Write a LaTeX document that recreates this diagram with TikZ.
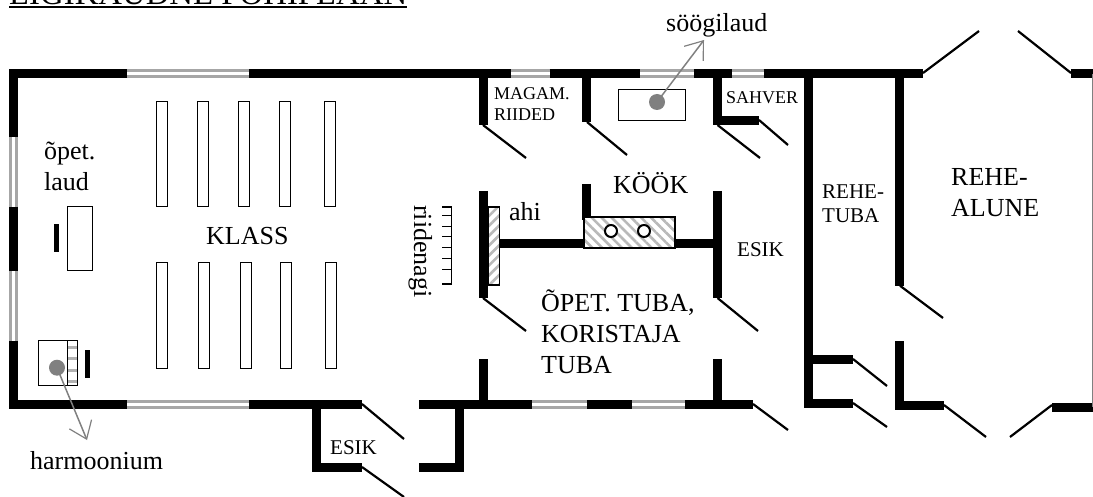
\documentclass[tikz,border=0pt]{standalone}
\usepackage{fontspec}
\setmainfont{Liberation Serif}
\usetikzlibrary{arrows.meta,patterns.meta}
\definecolor{windowgray}{gray}{0.65}
\definecolor{pointergray}{gray}{0.5}
\tikzset{
  wall/.style={line width=9pt},
  window/.style={draw=windowgray,line width=3pt,double=white,double distance=3pt},
  door/.style={line width=2.2pt},
  thing/.style={draw,line width=1pt,fill=white},
  hatchbox/.style={draw,line width=1.6pt,preaction={fill=white},pattern={Lines[angle=#1,distance=7pt,line width=2.6pt]},pattern color=gray!55},
  pointer/.style={draw=pointergray,line width=1.5pt,-{Straight Barb[length=16pt,width=24pt,line width=1.2pt]}},
  pin/.style={circle,fill=pointergray,inner sep=0pt,minimum size=16pt},
  big/.style={anchor=base west,inner sep=0pt,align=left,font=\fontsize{26}{31}\selectfont},
  mid/.style={anchor=base west,inner sep=0pt,align=left,font=\fontsize{21}{24.5}\selectfont},
  tiny/.style={anchor=base west,inner sep=0pt,align=left,font=\fontsize{18}{21}\selectfont},
}

\begin{document}
\begin{tikzpicture}[x=1pt,y=-1pt]
  \useasboundingbox (0,0) rectangle (1093,497);

  % heading, cut by the page edge
  \node[big,font=\fontsize{32.8}{36}\selectfont] (title) at (9,4.8) {LIGIKAUDNE PÕHIPLAAN};
  \draw[line width=2pt] (title.base west) ++(0,1.9) coordinate (ulstart) -- ++(398,0) coordinate (ulend);

  % windows
  \foreach \xa/\xb in {127/249,511/549.5,639.5/694,732/763.5}
    \draw[window] (\xa,73.8) -- (\xb,73.8);
  \foreach \xa/\xb in {127/249,532/587,631.5/685}
    \draw[window] (\xa,404) -- (\xb,404);
  \foreach \ya/\yb in {137/207,270.7/341}
    \draw[window] (13.5,\ya) -- (13.5,\yb);

  % outer walls
  \draw[wall] (13.5,137) -- (13.5,73.8) -- (127,73.8);
  \fill (9,69.3) rectangle (18,78.3);
  \draw[wall] (249,73.8) -- (511,73.8);
  \draw[wall] (549.5,73.8) -- (639.5,73.8);
  \draw[wall] (694,73.8) -- (732,73.8);
  \draw[wall] (763.5,73.8) -- (923,73.8);
  \draw[wall] (13.5,207) -- (13.5,270.7);
  \draw[wall] (13.5,341) -- (13.5,404) -- (127,404);
  \fill (9,399.5) rectangle (18,408.5);
  \draw[wall] (249,404) -- (362,404);
  \draw[wall] (419,404) -- (532,404);
  \draw[wall] (587,404) -- (631.5,404);
  \draw[wall] (685,404) -- (753,404);
  \draw[wall] (1071,73.8) -- (1093,73.8);
  \draw[wall] (1052,407) -- (1093,407);
  \draw[line width=1pt,draw=gray] (1092.5,73.8) -- (1092.5,407);

  % porch
  \draw[wall] (316.7,404) -- (316.7,471.5);
  \draw[wall] (312.2,467.5) -- (362,467.5);
  \draw[wall] (459,404) -- (459,471.5);
  \draw[wall] (419,467.5) -- (463.5,467.5);

  % inner walls
  \draw[wall] (483.3,73.8) -- (483.3,125);
  \draw[wall] (586.8,73.8) -- (586.8,122);
  \draw[wall] (717.5,73.8) -- (717.5,125);
  \draw[wall] (713,120.8) -- (759,120.8);
  \draw[wall] (483.3,191) -- (483.3,298);
  \draw[wall] (483.3,359) -- (483.3,404);
  \draw[wall] (586.8,184) -- (586.8,220);
  \draw[wall] (717.5,191) -- (717.5,298);
  \draw[wall] (717.5,359) -- (717.5,404);
  \draw[wall] (499,244) -- (713,244);
  \draw[wall] (808.7,73.8) -- (808.7,408);
  \draw[wall] (808.7,359) -- (853,359);
  \draw[wall] (804.2,403.7) -- (853,403.7);
  \draw[wall] (899.7,73.8) -- (899.7,285.7);
  \draw[wall] (899.7,341) -- (899.7,409.5);
  \draw[wall] (895.2,405) -- (944,405);

  % doors
  \foreach \xa/\ya/\xb/\yb in {362/404/404/439,362/467/404/497,483/125/526/158,
      587/122/627/155,717.5/125/760/158,759/120/788/145,483/298/526/331,
      717.5/298/758/331,753/404/788/430,853/359/887/386,853/403/887/427,
      900/285.7/943/318,944/405/986/437,923/73/979/31,1018/31/1071/73,1052/405/1010/437}
    \draw[door] (\xa,\ya) -- (\xb,\yb);

  % desks
  \foreach \x in {156,197,238.5,279,324.5}
    \draw[thing] (\x,102) rectangle ++(11,105);
  \foreach \x in {156.5,198,240.5,280,325}
    \draw[thing] (\x,262.7) rectangle ++(11,105.3);

  % teacher's table
  \draw[thing] (67,207) rectangle (92,271);
  \fill (54.3,224) rectangle (58.8,252);

  % harmonium
  \draw[thing] (38,340.7) rectangle (77,385.7);
  \foreach \y in {347,358,370,381}
    \fill[gray!60] (68,\y-1.5) rectangle (76.5,\y+1.5);
  \draw[line width=1pt] (67.5,340.7) -- (67.5,385.7);
  \fill (85,350) rectangle (89.5,378);

  % dining table
  \draw[thing] (618.5,90) rectangle (685.5,121);

  % ovens
  \draw[hatchbox=45] (488.5,207) rectangle (499.5,285);
  \draw[hatchbox=-45] (584,217) rectangle (675,248);
  \draw[line width=2pt,fill=white] (611,231) circle (6pt);
  \draw[line width=2pt,fill=white] (644,231) circle (6pt);

  % coat rack
  \draw[line width=1.5pt] (442,207) -- (451.7,207) -- (451.7,284) -- (442,284);
  \foreach \y in {216,227,237,248,259,270}
    \draw[line width=1pt] (442,\y) -- (451.7,\y);

  % pointers
  \node[pin] (harmpin) at (57,367.7) {};
  \coordinate (harmtip) at (87,440);
  \draw[pointer] (harmpin.center) -- (harmtip);
  \node[pin] (tablepin) at (657,102) {};
  \coordinate (tabletip) at (704,40);
  \draw[pointer] (tablepin.center) -- (tabletip);

  % labels
  \node[big] (laud) at (44,190.7) {õpet.\\laud};
  \node[big] (klass) at (206,245) {KLASS};
  \node[big] (harmoonium) at (30,469) {harmoonium};
  \node[mid] (esikone) at (330,454) {ESIK};
  \node[tiny] (magam) at (494,121) {MAGAM.\\RIIDED};
  \node[big] (soogilaud) at (666,32) {söögilaud};
  \node[tiny] (sahver) at (726,104) {SAHVER};
  \node[big] (kook) at (613,194) {KÖÖK};
  \node[big] (ahi) at (509,221) {ahi};
  \node[big,rotate=-90] (nagi) at (414,205) {riidenagi};
  \node[mid] (esiktwo) at (737,257) {ESIK};
  \node[big] (opet) at (541,373) {ÕPET. TUBA,\\KORISTAJA\\TUBA};
  \node[mid] (rehetuba) at (822,223) {REHE-\\TUBA};
  \node[big] (rehealune) at (951,217) {REHE-\\ALUNE};
\end{tikzpicture}
\end{document}
